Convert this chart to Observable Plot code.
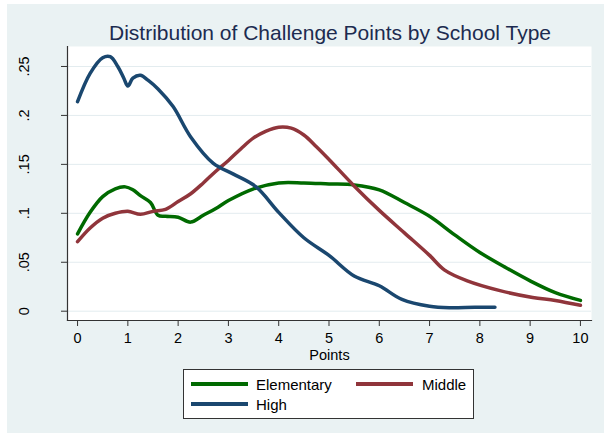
<!DOCTYPE html>
<html>
<head>
<meta charset="utf-8">
<script src="https://cdn.jsdelivr.net/npm/d3@7"></script>
<script src="https://cdn.jsdelivr.net/npm/@observablehq/plot@0.6"></script>
<style>
  html, body { margin: 0; padding: 0; background: #ffffff; }
  body { width: 613px; height: 437px; position: relative; overflow: hidden; font-family: "Liberation Sans", Arial, sans-serif; }
  #bg { position: absolute; left: 7px; top: 4px; width: 597px; height: 429px; background: #EAF2F3; }
  #title { position: absolute; left: 0; top: 21.7px; width: 660px; text-align: center; font-size: 21px; line-height: 21px; color: #1C2B50; white-space: nowrap; }
  #chart { position: absolute; left: 0; top: 0; }
  #legend { position: absolute; left: 183px; top: 369px; width: 289px; height: 48px; background: #fff; border: 1px solid #333; }
  .sw { position: absolute; height: 3.5px; width: 57px; }
  .lt { position: absolute; font-size: 15px; line-height: 15px; color: #000; white-space: nowrap; }
</style>
</head>
<body>
<div id="bg"></div>
<div id="title">Distribution of Challenge Points by School Type</div>
<div id="chart"></div>
<div id="legend"></div>
<script>
// ---- data ----
const seriesNames = ["Elementary", "Middle", "High"];
const seriesColors = ["#006A00", "#90353B", "#1A476F"];

const elementaryX = [0, 0.25, 0.5, 0.75, 0.95, 1.1, 1.25, 1.45, 1.6, 1.75, 2, 2.25, 2.5, 2.75, 3, 3.5, 4, 4.5, 5, 5.5, 6, 6.5, 7, 7.5, 8, 8.5, 9, 9.5, 10];
const elementaryY = [.079, .101, .117, .125, .127, .124, .118, .111, .098, .097, .096, .091, .098, .105, .113, .125, .131, .131, .130, .129, .124, .111, .097, .078, .060, .045, .031, .019, .011];

const middleX = [0, 0.25, 0.5, 0.75, 1, 1.25, 1.5, 1.75, 2, 2.25, 2.5, 2.75, 3, 3.25, 3.5, 3.75, 4, 4.25, 4.5, 4.75, 5, 5.5, 6, 6.5, 7, 7.3, 7.75, 8.4, 9.05, 9.5, 10];
const middleY = [.071, .085, .095, .100, .102, .099, .102, .104, .112, .120, .131, .143, .154, .166, .177, .184, .188, .187, .180, .168, .155, .128, .103, .080, .057, .042, .031, .021, .014, .011, .006];

const highX = [0, 0.25, 0.5, 0.65, 0.8, 0.92, 1.0, 1.1, 1.25, 1.4, 1.6, 1.9, 2.25, 2.7, 3.1, 3.55, 4, 4.5, 5, 5.5, 6, 6.45, 7, 7.4, 7.9, 8.3];
const highY = [.214, .243, .259, .260, .250, .238, .230, .238, .241, .236, .227, .209, .178, .151, .140, .127, .101, .075, .057, .036, .026, .012, .005, .0035, .004, .004];

const xTicks = [0, 1, 2, 3, 4, 5, 6, 7, 8, 9, 10];
const yTicks = [0, 0.05, 0.1, 0.15, 0.2, 0.25];
const yTickLabels = ["0", ".05", ".1", ".15", ".2", ".25"];
const xLabel = "Points";

// ---- build table ----
const rows = [];
[[elementaryX, elementaryY, "Elementary"], [middleX, middleY, "Middle"], [highX, highY, "High"]].forEach(([xs, ys, name]) => {
  xs.forEach((x, i) => rows.push({x, y: ys[i], school: name}));
});

const chart = Plot.plot({
  width: 613,
  height: 370,
  marginLeft: 67,
  marginRight: 22,
  marginTop: 46,
  marginBottom: 50,
  style: { background: "transparent", fontFamily: "Liberation Sans, Arial, sans-serif", fontSize: "14.5px", color: "#000" },
  x: { domain: [-0.2, 10.22] },
  y: { domain: [-0.0095, 0.2704] },
  color: { domain: seriesNames, range: seriesColors },
  marks: [
    Plot.frame({ fill: "white", stroke: "none" }),
    Plot.gridY(yTicks, { stroke: "#E3ECEF", strokeOpacity: 1, strokeWidth: 1 }),
    Plot.line(rows, { x: "x", y: "y", stroke: "school", z: "school", strokeWidth: 3.5, curve: "catmull-rom" }),
    Plot.frame({ anchor: "left", stroke: "#333", strokeWidth: 1.2 }),
    Plot.frame({ anchor: "bottom", stroke: "#333", strokeWidth: 1.2 }),
    Plot.axisY(yTicks, { tickFormat: (d) => yTickLabels[yTicks.indexOf(d)], tickSize: 6, tickPadding: 37, tickRotate: -90, textAnchor: "middle", lineAnchor: "middle", stroke: "#333", label: null, fill: "#000" }),
    Plot.axisX(xTicks, { tickSize: 6, tickPadding: 6, stroke: "#333", label: null, fill: "#000" }),
    Plot.text([xLabel], { frameAnchor: "bottom", dy: 39, text: d => d, lineAnchor: "bottom", fill: "#000", fontSize: 14.5 })
  ]
});
document.getElementById("chart").appendChild(chart);

// ---- legend ----
const legend = document.getElementById("legend");
const pos = [
  { sx: 7, sy: 14, tx: 72, ty: 6.6 },
  { sx: 172, sy: 14, tx: 238, ty: 6.6 },
  { sx: 7, sy: 34, tx: 72, ty: 26.6 }
];
seriesNames.forEach((name, i) => {
  const p = pos[i];
  const sw = document.createElement("div");
  sw.className = "sw";
  sw.style.left = p.sx + "px"; sw.style.top = (p.sy - 2) + "px";
  sw.style.background = seriesColors[i];
  legend.appendChild(sw);
  const t = document.createElement("div");
  t.className = "lt";
  t.style.left = p.tx + "px"; t.style.top = p.ty + "px";
  t.textContent = name;
  legend.appendChild(t);
});
</script>
</body>
</html>
